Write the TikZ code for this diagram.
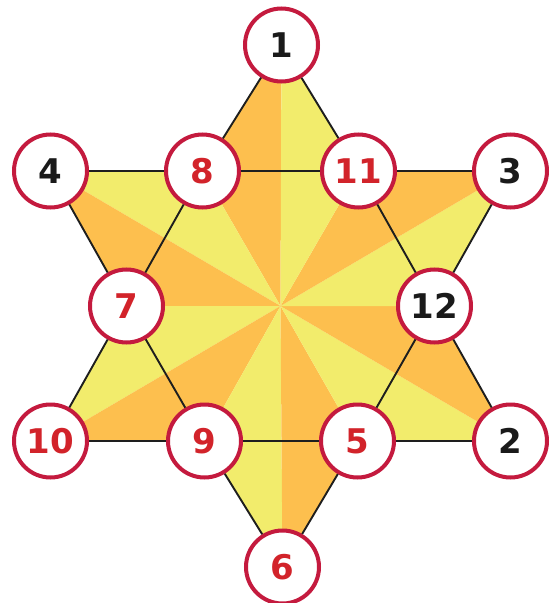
\documentclass[tikz,border=0pt]{standalone}
\usepackage{fontspec}
\setmainfont{DejaVu Sans}
\usepackage{xcolor}
\definecolor{Ring}{HTML}{C41A3E}
\definecolor{Numred}{HTML}{D2232A}
\definecolor{Numblack}{HTML}{1A1A1A}
\definecolor{Ray}{HTML}{FDBF4E}
\definecolor{Light}{HTML}{F2EC6C}
\definecolor{Edge}{HTML}{1E1E1E}
\usepackage{tikz}
\usetikzlibrary{backgrounds}

\begin{document}
\begin{tikzpicture}[
  x=1pt,y=1pt,
  spot/.style={circle,draw=Ring,line width=4pt,fill=white,minimum size=73pt,
    inner sep=0pt,font=\fontsize{34}{34}\selectfont\bfseries},
  inner/.style={spot,text=Numred},
  outer/.style={spot,text=Numblack},
  edge/.style={line width=1.9pt,draw=Edge}
]
\useasboundingbox (-280.5,-297) rectangle (277.5,306);
\coordinate (c) at (0,0);

\node[outer] (n1) at (1,261) {1};
\node[outer] (n4) at (-230,135) {4};
\node[inner] (n8) at (-78,135) {8};
\node[inner] (n11) at (78,135) {11};
\node[outer] (n3) at (230,135) {3};
\node[inner] (n7) at (-154,0) {7};
\node[outer] (n12) at (154,0) {12};
\node[inner] (n10) at (-230,-135) {10};
\node[inner] (n9) at (-76,-135) {9};
\node[inner] (n5) at (77,-135) {5};
\node[outer] (n2) at (230,-135) {2};
\node[inner] (n6) at (2,-261) {6};

% the two triangles
\draw[edge] (n1) -- (n8);
\draw[edge] (n8) -- (n7);
\draw[edge] (n7) -- (n10);
\draw[edge] (n10) -- (n9);
\draw[edge] (n9) -- (n5);
\draw[edge] (n5) -- (n2);
\draw[edge] (n2) -- (n12);
\draw[edge] (n12) -- (n11);
\draw[edge] (n11) -- (n1);
\draw[edge] (n4) -- (n8);
\draw[edge] (n8) -- (n11);
\draw[edge] (n11) -- (n3);
\draw[edge] (n3) -- (n12);
\draw[edge] (n12) -- (n5);
\draw[edge] (n5) -- (n6);
\draw[edge] (n6) -- (n9);
\draw[edge] (n9) -- (n7);
\draw[edge] (n7) -- (n4);

% rays
\begin{scope}[on background layer]
\foreach \a/\b/\col in {n1/n8/Ray,n8/n4/Light,n4/n7/Ray,n7/n10/Light,
    n10/n9/Ray,n9/n6/Light,n6/n5/Ray,n5/n2/Light,n2/n12/Ray,n12/n3/Light,
    n3/n11/Ray,n11/n1/Light}
  \fill[\col] (c) -- (\a.center) -- (\b.center) -- cycle;
\end{scope}
\end{tikzpicture}
\end{document}
